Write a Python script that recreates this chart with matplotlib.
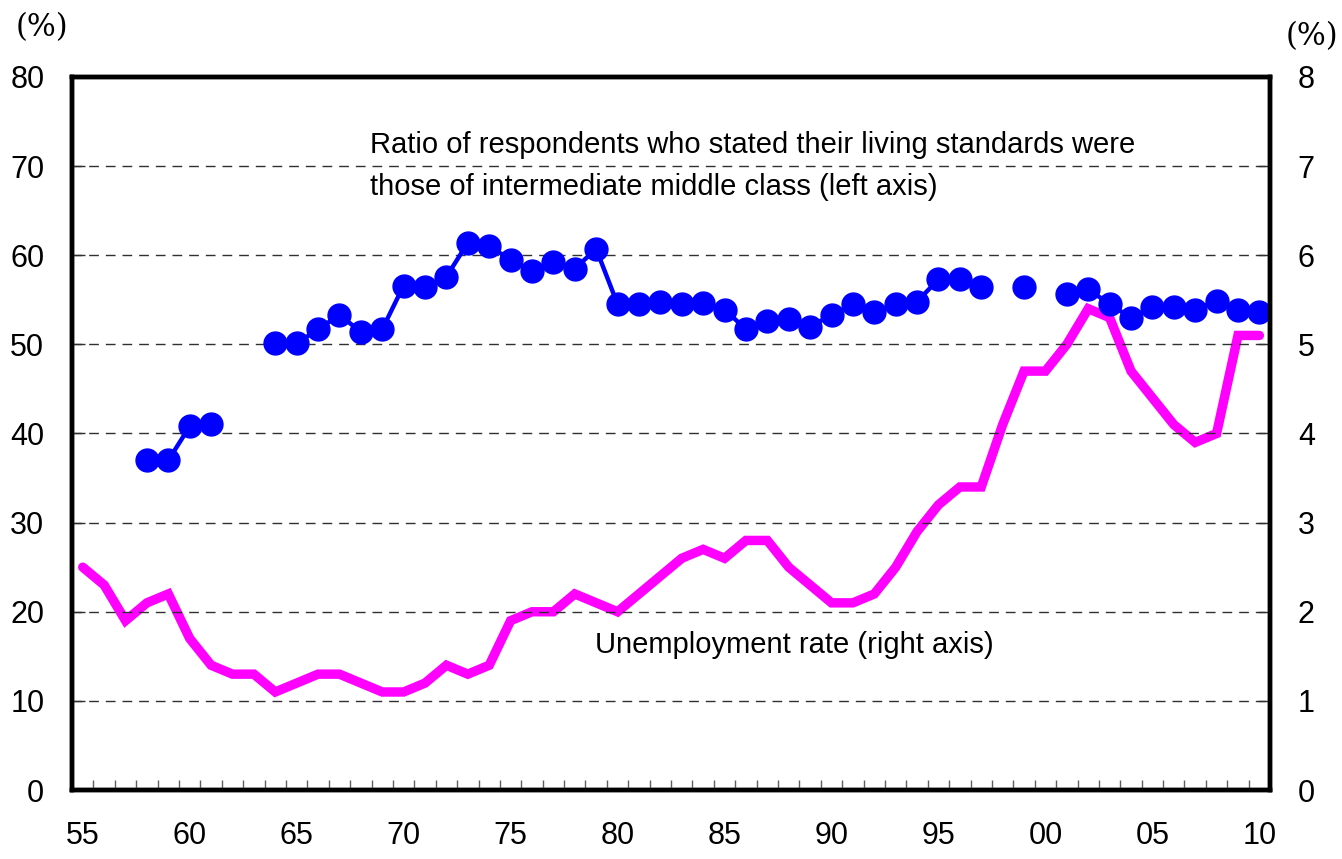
import numpy as np
import matplotlib
matplotlib.use("Agg")
import matplotlib.pyplot as plt

plt.rcParams['font.family'] = ['Liberation Sans', 'DejaVu Sans']

years = list(range(1955, 2011))

# middle class ratio (left axis, %), None = no survey that year
middle = [None, None, None, 37.0, 37.0, 40.8, 41.1, None, None, 50.1,
          50.1, 51.7, 53.3, 51.4, 51.7, 56.6, 56.4, 57.6, 61.4, 61.0,
          59.5, 58.2, 59.2, 58.5, 60.7, 54.5, 54.5, 54.8, 54.5, 54.6,
          53.9, 51.7, 52.6, 52.9, 52.0, 53.3, 54.5, 53.6, 54.5, 54.8,
          57.3, 57.3, 56.4, None, 56.4, None, 55.7, 56.2, 54.5, 53.0,
          54.2, 54.2, 53.9, 54.9, 53.9, 53.6]

# unemployment rate (right axis, %)
unemp = [2.5, 2.3, 1.9, 2.1, 2.2, 1.7, 1.4, 1.3, 1.3, 1.1,
         1.2, 1.3, 1.3, 1.2, 1.1, 1.1, 1.2, 1.4, 1.3, 1.4,
         1.9, 2.0, 2.0, 2.2, 2.1, 2.0, 2.2, 2.4, 2.6, 2.7,
         2.6, 2.8, 2.8, 2.5, 2.3, 2.1, 2.1, 2.2, 2.5, 2.9,
         3.2, 3.4, 3.4, 4.1, 4.7, 4.7, 5.0, 5.4, 5.3, 4.7,
         4.4, 4.1, 3.9, 4.0, 5.1, 5.1]

xlabels = ['55', '60', '65', '70', '75', '80', '85', '90', '95', '00', '05', '10']

mid_arr = np.array([np.nan if v is None else v for v in middle])

fig = plt.figure(figsize=(13.42, 8.59), dpi=100)
ax = fig.add_axes([0.0537, 0.0803, 0.8927, 0.8301])
ax2 = ax.twinx()

ax2.plot(years, unemp, color='#FF00FF', lw=6.8, solid_joinstyle='miter', solid_capstyle='round')
ax.plot(years, mid_arr, color='#0000FF', lw=3.2, marker='o', markersize=16.5,
        markeredgecolor='#0000FF')

# blue series drawn above the magenta one
ax.set_zorder(ax2.get_zorder() + 1)
ax.patch.set_visible(False)

ax.set_xlim(1954.5, 2010.5)
ax.set_ylim(0, 80)
ax2.set_ylim(0, 8)

ax.set_yticks(range(0, 81, 10))
ax2.set_yticks(range(0, 9))
ax.yaxis.grid(True, linestyle=(0, (7, 5)), color='#303030', lw=1.0)

ax.set_xticks(years[::5])
ax.set_xticklabels(xlabels)
ax.set_xticks(np.arange(1955.5, 2010, 1), minor=True)
ax.tick_params(axis='x', which='major', length=0, pad=22, labelsize=22)
ax.tick_params(axis='x', which='minor', direction='in', length=7, width=1, color='#606060')
ax.tick_params(axis='y', direction='in', length=9, width=1, color='#303030', labelsize=22, pad=20)
ax2.tick_params(axis='y', direction='in', length=9, width=1, color='#303030', labelsize=22, pad=20)

for a in (ax, ax2):
    for s in a.spines.values():
        s.set_linewidth(3.2)
        s.set_color('black')

ax.text(0.2487, 0.875, 'Ratio of respondents who stated their living standards were\n'
        'those of intermediate middle class (left axis)',
        transform=ax.transAxes, fontsize=21, va='center', ha='left', linespacing=1.6)
ax.text(0.4366, 0.203, 'Unemployment rate (right axis)', transform=ax.transAxes,
        fontsize=21, va='center', ha='left')

fig.text(0.012, 0.968, '(%)', fontsize=22, family='DejaVu Serif', va='center', ha='left')
fig.text(0.958, 0.958, '(%)', fontsize=22, family='DejaVu Serif', va='center', ha='left')

fig.savefig('out.png', dpi=100)
